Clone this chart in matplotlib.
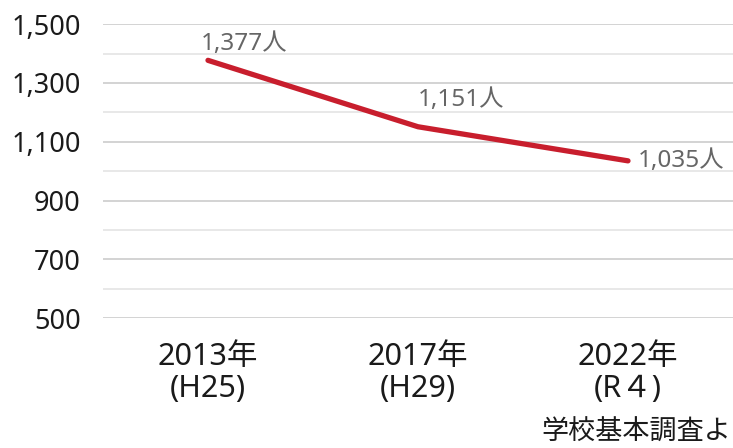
import matplotlib.pyplot as plt
import numpy as np
from matplotlib.ticker import FixedLocator, MultipleLocator, FuncFormatter

plt.rcParams["font.family"] = ["Noto Sans", "Noto Sans CJK JP", "DejaVu Sans"]

# data
categories = ["2013年\n(H25)", "2017年\n(H29)", "2022年\n(R４)"]
values = [1377, 1151, 1035]
value_labels = ["1,377人", "1,151人", "1,035人"]
y_ticks = [500, 700, 900, 1100, 1300, 1500]
source = "学校基本調査よ"  # cut at the right edge in the original

fig = plt.figure(figsize=(7.33, 4.48), dpi=100)
ax = fig.add_axes([0.1405, 0.29, 0.8595, 0.656])

x = np.arange(len(values))
ax.plot(x, values, color="#c81e2d", lw=3.8, solid_capstyle="round",
        solid_joinstyle="round", zorder=3)

# data labels (offsets in points)
offsets = [(-5, 12), (0, 19.5), (7, 0)]
for xi, v, lab, off in zip(x, values, value_labels, offsets):
    ax.annotate(lab, (xi, v), xytext=off, textcoords="offset points",
                ha="left", va="center", fontsize=17.5, color="#666666")

ax.set_xlim(-0.5, 2.5)
ax.set_ylim(500, 1500)
ax.yaxis.set_major_locator(FixedLocator(y_ticks))
ax.yaxis.set_minor_locator(MultipleLocator(100))
ax.yaxis.set_major_formatter(FuncFormatter(lambda v, p: f"{int(v):,}"))
ax.grid(axis="y", which="major", color="#c8c8c8", lw=1.1)
ax.grid(axis="y", which="minor", color="#e2e2e2", lw=1.1)
ax.set_axisbelow(True)

ax.set_xticks(x)
ax.set_xticklabels(categories, fontsize=22, linespacing=1.08)
ax.tick_params(axis="x", length=0, pad=17, colors="#1a1a1a")
ax.tick_params(axis="y", which="both", length=0, pad=16, labelsize=19.5,
               colors="#1a1a1a")
for s in ax.spines.values():
    s.set_visible(False)

fig.text(0.997, 0.003, source, fontsize=19.5, color="#1a1a1a",
         ha="right", va="bottom")

fig.savefig("out.png", dpi=100)
